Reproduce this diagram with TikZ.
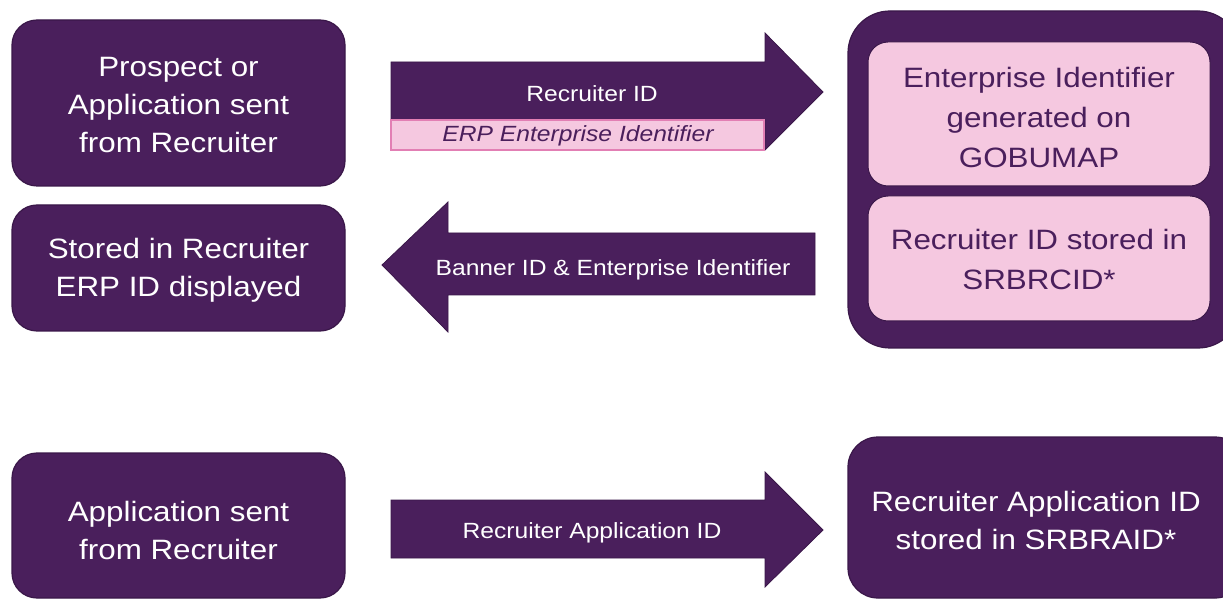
\documentclass[tikz,border=0pt]{standalone}
\usepackage{fontspec}
\setmainfont{Liberation Sans}[FakeStretch=1.12]
\definecolor{plum}{HTML}{4A1F5C}
\definecolor{plumline}{HTML}{3A1749}
\definecolor{blush}{HTML}{F5C8E0}
\definecolor{blushline}{HTML}{E27FB4}
\tikzset{
    box/.style={fill=plum,draw=plumline,line width=1.2pt,rounded corners=25pt},
    inbox/.style={fill=blush,draw=plumline,line width=1pt,rounded corners=20pt},
    bigtext/.style={text=white,align=center,font=\fontsize{28}{38}\selectfont},
    pinktext/.style={text=plum,align=center,font=\fontsize{28}{40}\selectfont},
    arrowtext/.style={text=white,font=\fontsize{22}{26}\selectfont},
    blockarrow/.style={fill=plum,draw=plumline,line width=0.8pt,line join=miter}
}

\begin{document}
\begin{tikzpicture}[x=1pt,y=-1pt]
    \useasboundingbox (0,0) rectangle (1223,601);
    % left boxes
    \draw[box] (12,20) rectangle (345,186);
    \node[bigtext] (prospect) at (178.5,105) {Prospect or\\Application sent\\from Recruiter};
    \draw[box] (12,205) rectangle (345,331);
    \node[bigtext] (stored) at (178.5,270) {Stored in Recruiter\\ERP ID displayed};
    \draw[box] (12,453) rectangle (345,598);
    \node[bigtext] (appsent) at (178.5,530) {Application sent\\from Recruiter};
    % right boxes
    \draw[box,rounded corners=42pt] (848,11) rectangle (1240,348);
    \draw[inbox] (868,42) rectangle (1210,186);
    \node[pinktext] (gobumap) at (1039,117) {Enterprise Identifier\\generated on\\GOBUMAP};
    \draw[inbox] (868,196) rectangle (1210,321);
    \node[pinktext] (srbrcid) at (1039,259) {Recruiter ID stored in\\SRBRCID*};
    \draw[box,rounded corners=30pt] (848,437) rectangle (1245,598);
    \node[bigtext] (srbraid) at (1036,520) {Recruiter Application ID\\stored in SRBRAID*};
    % arrows
    \draw[blockarrow] (391,62) -- (765,62) -- (765,33) -- (823,92) -- (765,150) -- (765,120) -- (391,120) -- cycle;
    \draw[fill=blush,draw=blushline,line width=1.2pt] (391,120) rectangle (764,150);
    \node[arrowtext] (recid) at (592,94) {Recruiter ID};
    \node[text=plum,font=\fontsize{22}{26}\selectfont\itshape] (erp) at (578,136) {ERP Enterprise Identifier};
    \draw[blockarrow] (815,233) -- (448,233) -- (448,202) -- (382,265) -- (448,332) -- (448,295) -- (815,295) -- cycle;
    \node[arrowtext] (banner) at (613,270) {Banner ID \& Enterprise Identifier};
    \draw[blockarrow] (391,500) -- (765,500) -- (765,472) -- (823,530) -- (765,587) -- (765,558) -- (391,558) -- cycle;
    \node[arrowtext] (recapp) at (592,533) {Recruiter Application ID};
\end{tikzpicture}
\end{document}
